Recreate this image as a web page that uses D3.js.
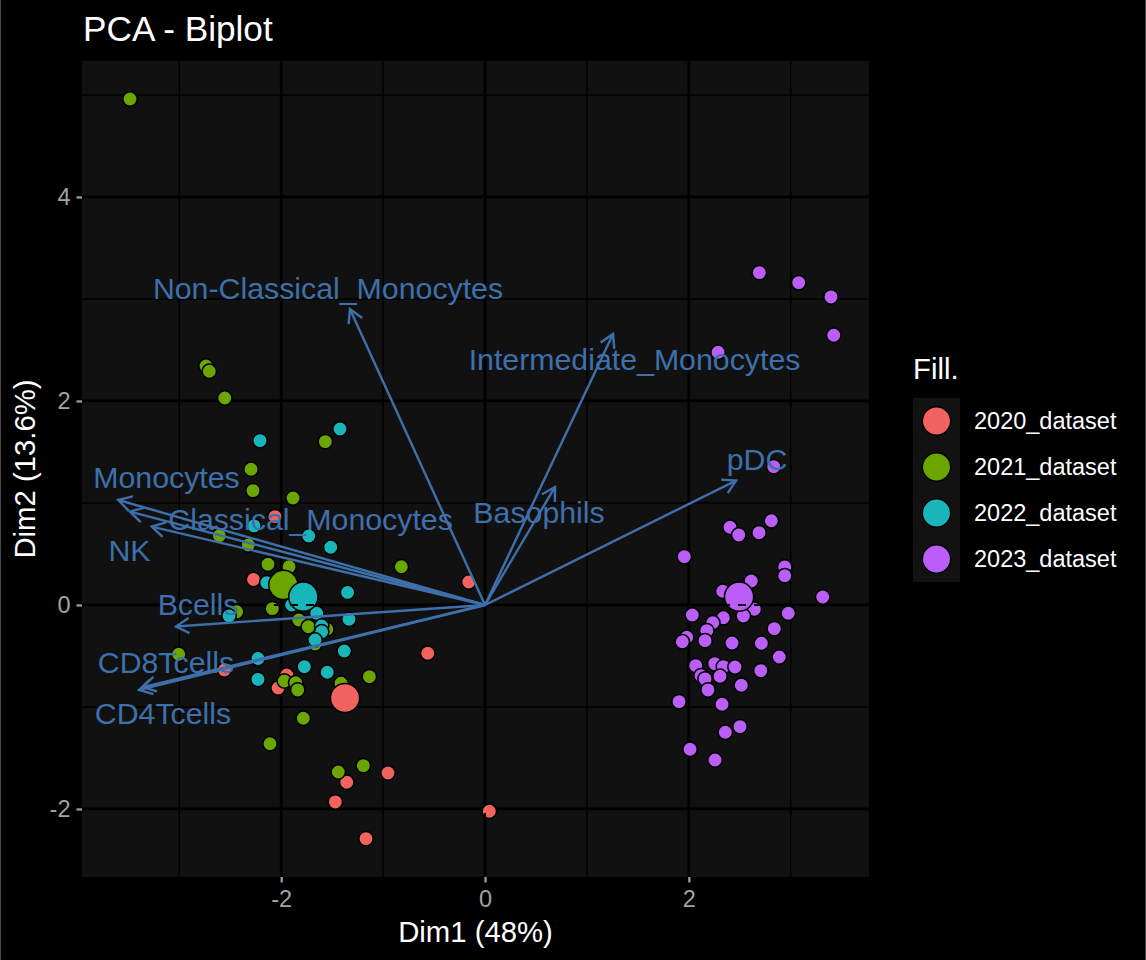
<!DOCTYPE html>
<html><head><meta charset="utf-8">
<script src="https://cdn.jsdelivr.net/npm/d3@7"></script>
<style>body{margin:0;background:#000;} svg{display:block;}</style>
</head><body>
<svg id="c" width="1146" height="960"></svg>
<script>
// ---------------- data ----------------
const groups = ["2020_dataset", "2021_dataset", "2022_dataset", "2023_dataset"];
const groupColors = ["#F2625F", "#6AA500", "#18B6BB", "#BB5DF7"];

const dim1_2020 = [-2.272, -0.160, -0.562, -2.558, -1.946, -2.031, -0.952, -1.357, -1.469, 0.042, -1.168, -2.061];
const dim2_2020 = [0.250, 0.225, -0.474, -0.637, -0.686, -0.814, -1.647, -1.738, -1.931, -2.023, -2.291, 0.866];

const dim1_2021 = [-3.484, -2.738, -2.706, -2.554, -1.567, -2.296, -2.277, -1.884, -2.607, -2.323, -0.821, -2.130, -1.923, -2.437, -2.087, -1.828, -1.734, -1.553, -1.668, -3.006, -1.135, -1.970, -1.858, -1.838, -1.413, -1.783, -2.110, -1.194, -1.440];
const dim2_2021 = [4.961, 2.343, 2.291, 2.029, 1.601, 1.330, 1.121, 1.049, 0.679, 0.588, 0.375, 0.399, 0.375, -0.066, -0.036, -0.147, -0.213, -0.238, -0.382, -0.483, -0.703, -0.745, -0.762, -0.833, -0.768, -1.111, -1.360, -1.575, -1.637];

const dim1_2022 = [-1.423, -2.208, -2.267, -1.730, -1.514, -2.142, -1.349, -1.897, -2.512, -1.652, -1.335, -1.603, -1.603, -1.668, -1.381, -2.228, -1.773, -1.548, -2.228];
const dim2_2022 = [1.725, 1.611, 0.775, 0.676, 0.566, 0.219, 0.123, 0.000, -0.108, -0.081, -0.140, -0.206, -0.262, -0.343, -0.451, -0.525, -0.605, -0.660, -0.730];

const dim1_2023 = [2.692, 3.078, 3.395, 3.422, 2.287, 2.833, 2.404, 2.490, 2.689, 2.810, 1.956, 2.941, 2.941, 2.613, 2.333, 3.314, 2.643, 2.535, 2.339, 2.034, 2.976, 2.235, 2.176, 2.159, 1.979, 1.936, 2.839, 2.424, 2.712, 2.888, 2.068, 2.254, 2.339, 2.453, 2.120, 2.159, 2.306, 2.706, 2.515, 2.188, 1.904, 2.326, 2.502, 2.358, 2.012, 2.257];
const dim2_2023 = [3.258, 3.160, 3.020, 2.644, 2.477, 1.356, 0.762, 0.686, 0.709, 0.826, 0.474, 0.373, 0.287, 0.235, 0.134, 0.078, -0.042, -0.108, -0.125, -0.098, -0.081, -0.174, -0.252, -0.350, -0.317, -0.360, -0.232, -0.373, -0.375, -0.510, -0.595, -0.575, -0.605, -0.608, -0.693, -0.725, -0.699, -0.644, -0.787, -0.833, -0.948, -0.974, -1.193, -1.248, -1.415, -1.520];

// group mean points
const meanDim1 = [-1.374, -1.979, -1.783, 2.493];
const meanDim2 = [-0.912, 0.196, 0.081, 0.081];

// variable arrows
const varNames = ["Non-Classical_Monocytes", "Intermediate_Monocytes", "pDC", "Basophils", "Monocytes", "Classical_Monocytes", "NK", "Bcells", "CD8Tcells", "CD4Tcells"];
const varDim1 = [-1.325, 1.256, 2.463, 0.687, -3.599, -3.484, -3.271, -3.032, -3.360, -3.395];
const varDim2 = [2.899, 2.657, 1.219, 1.157, 1.029, 0.915, 0.768, -0.211, -0.805, -0.833];
const labelDim1 = [-1.541, 1.467, 2.669, 0.530, -3.126, -1.712, -3.489, -2.816, -3.131, -3.160];
const labelDim2 = [3.108, 2.412, 1.426, 0.907, 1.250, 0.843, 0.534, 0.005, -0.564, -1.064];

const xTicks = [-2, 0, 2];
const yTicks = [-2, 0, 2, 4];
const xMinor = [-3, -1, 1, 3];
const yMinor = [-1, 1, 3, 5];
const xDomain = [-3.955, 3.768];
const yDomain = [-2.667, 5.333];

const titleText = "PCA - Biplot";
const xTitle = "Dim1 (48%)";
const yTitle = "Dim2 (13.6%)";
const legendTitle = "Fill.";

// ---------------- drawing ----------------
const FONT = "'Liberation Sans', Arial, Helvetica, sans-serif";
const svg = d3.select("#c");
svg.append("rect").attr("width", 1146).attr("height", 960).attr("fill", "#000");
svg.append("line").attr("x1", 0.5).attr("x2", 0.5).attr("y1", 0).attr("y2", 960).attr("stroke", "#4a4a4a");
svg.append("line").attr("x1", 1145.5).attr("x2", 1145.5).attr("y1", 0).attr("y2", 960).attr("stroke", "#4a4a4a");

const P = {l: 82, r: 869, t: 61, b: 877};
const x = d3.scaleLinear().domain(xDomain).range([P.l, P.r]);
const y = d3.scaleLinear().domain(yDomain).range([P.b, P.t]);

// panel
svg.append("rect").attr("x", P.l).attr("y", P.t).attr("width", P.r - P.l).attr("height", P.b - P.t).attr("fill", "#111111");
const grid = svg.append("g");
grid.selectAll(".vm").data(xMinor).join("line").attr("x1", d => x(d)).attr("x2", d => x(d)).attr("y1", P.t).attr("y2", P.b).attr("stroke", "#000").attr("stroke-width", 1.4);
grid.selectAll(".hm").data(yMinor).join("line").attr("y1", d => y(d)).attr("y2", d => y(d)).attr("x1", P.l).attr("x2", P.r).attr("stroke", "#000").attr("stroke-width", 1.4);
grid.selectAll(".vM").data(xTicks).join("line").attr("x1", d => x(d)).attr("x2", d => x(d)).attr("y1", P.t).attr("y2", P.b).attr("stroke", "#000").attr("stroke-width", 2.7);
grid.selectAll(".hM").data(yTicks).join("line").attr("y1", d => y(d)).attr("y2", d => y(d)).attr("x1", P.l).attr("x2", P.r).attr("stroke", "#000").attr("stroke-width", 2.7);

// points
const allDim1 = [dim1_2020, dim1_2021, dim1_2022, dim1_2023];
const allDim2 = [dim2_2020, dim2_2021, dim2_2022, dim2_2023];
const points = [];
groups.forEach((g, gi) => allDim1[gi].forEach((v, i) => points.push({g: gi, x: v, y: allDim2[gi][i]})));
svg.append("g").selectAll("circle").data(points).join("circle")
  .attr("cx", d => x(d.x)).attr("cy", d => y(d.y)).attr("r", 7.2)
  .attr("fill", d => groupColors[d.g]).attr("stroke", "#000").attr("stroke-width", 1.5);

// mean points
svg.append("g").selectAll("circle").data(groups).join("circle")
  .attr("cx", (d, i) => x(meanDim1[i])).attr("cy", (d, i) => y(meanDim2[i])).attr("r", 14.6)
  .attr("fill", (d, i) => groupColors[i]).attr("stroke", "#000").attr("stroke-width", 1.5);

// dashed zero lines
svg.append("line").attr("x1", P.l).attr("x2", P.r).attr("y1", y(0)).attr("y2", y(0)).attr("stroke", "#000").attr("stroke-width", 2).attr("stroke-dasharray", "8,8");
svg.append("line").attr("x1", x(0)).attr("x2", x(0)).attr("y1", P.t).attr("y2", P.b).attr("stroke", "#000").attr("stroke-width", 2).attr("stroke-dasharray", "8,8");

// arrows
const ARROW = "#3E70AB";
const ag = svg.append("g");
varNames.forEach((n, i) => {
  const x0 = x(0), y0 = y(0), x1 = x(varDim1[i]), y1 = y(varDim2[i]);
  ag.append("line").attr("x1", x0).attr("y1", y0).attr("x2", x1).attr("y2", y1)
    .attr("stroke", ARROW).attr("stroke-width", 2.4);
  const ang = Math.atan2(y0 - y1, x0 - x1);
  const L = 15, a = Math.PI / 6;
  const p1 = [x1 + L * Math.cos(ang + a), y1 + L * Math.sin(ang + a)];
  const p2 = [x1 + L * Math.cos(ang - a), y1 + L * Math.sin(ang - a)];
  ag.append("path").attr("d", `M${p1[0]},${p1[1]}L${x1},${y1}L${p2[0]},${p2[1]}`)
    .attr("fill", "none").attr("stroke", ARROW).attr("stroke-width", 2.4);
});
ag.selectAll("text").data(varNames).join("text")
  .attr("x", (d, i) => x(labelDim1[i])).attr("y", (d, i) => y(labelDim2[i])).attr("dy", "0.35em")
  .attr("text-anchor", "middle").attr("font-family", FONT).attr("font-size", 30.3).attr("fill", ARROW)
  .text(d => d);

// axes
const TICKC = "#a3a3a3";
const xa = svg.append("g").attr("transform", `translate(0,${P.b})`)
  .call(d3.axisBottom(x).tickValues(xTicks).tickSize(5.5).tickPadding(8).tickFormat(d => String(d)));
const ya = svg.append("g").attr("transform", `translate(${P.l},0)`)
  .call(d3.axisLeft(y).tickValues(yTicks).tickSize(5.5).tickPadding(6).tickFormat(d => String(d)));
[xa, ya].forEach(a => {
  a.select(".domain").remove();
  a.selectAll(".tick line").attr("stroke", TICKC).attr("stroke-width", 2.2);
  a.selectAll(".tick text").attr("fill", TICKC).attr("font-family", FONT).attr("font-size", 23.5);
});

// titles
svg.append("text").attr("x", 83).attr("y", 41).attr("font-family", FONT).attr("font-size", 35.2).attr("fill", "#fff").text(titleText);
svg.append("text").attr("x", (P.l + P.r) / 2).attr("y", 942).attr("text-anchor", "middle").attr("font-family", FONT).attr("font-size", 29.3).attr("fill", "#fff").text(xTitle);
svg.append("text").attr("transform", `translate(35,${(P.t + P.b) / 2}) rotate(-90)`).attr("text-anchor", "middle").attr("font-family", FONT).attr("font-size", 29.3).attr("fill", "#fff").text(yTitle);

// legend
const lg = svg.append("g");
lg.append("text").attr("x", 913).attr("y", 379).attr("font-family", FONT).attr("font-size", 29.3).attr("fill", "#fff").text(legendTitle);
lg.append("rect").attr("x", 913).attr("y", 398).attr("width", 47).attr("height", 184).attr("fill", "#121212");
const ly = d3.scalePoint().domain(groups).range([421, 559]);
lg.selectAll("circle").data(groups).join("circle")
  .attr("cx", 936.5).attr("cy", d => ly(d)).attr("r", 14.2)
  .attr("fill", (d, i) => groupColors[i]).attr("stroke", "#000").attr("stroke-width", 1.5);
lg.selectAll(".lt").data(groups).join("text")
  .attr("x", 974).attr("y", d => ly(d)).attr("dy", "0.35em")
  .attr("font-family", FONT).attr("font-size", 23.5).attr("fill", "#fff").text(d => d);
</script>
</body></html>
